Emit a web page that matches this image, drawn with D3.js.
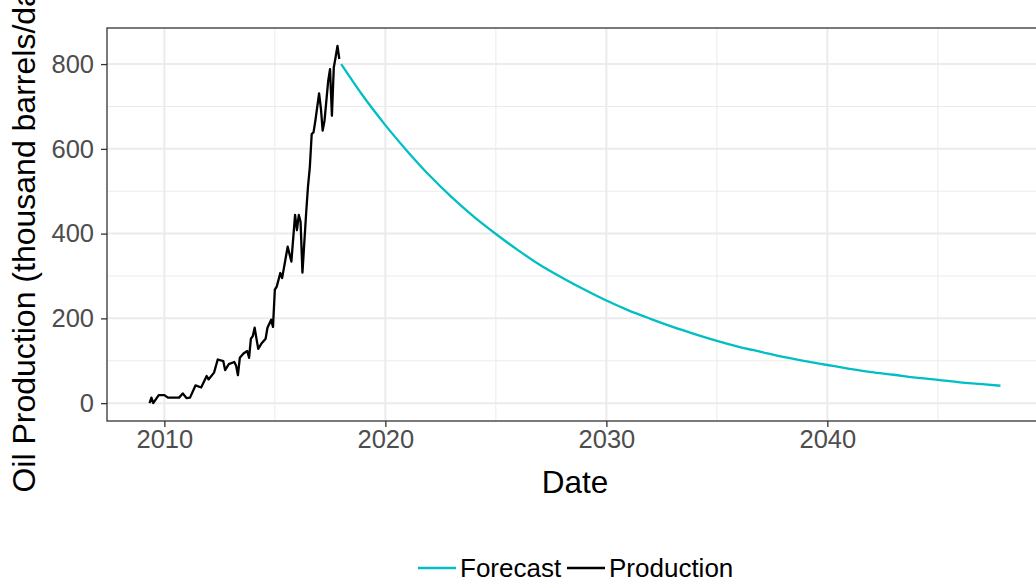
<!DOCTYPE html>
<html>
<head>
<meta charset="utf-8">
<script src="https://cdn.jsdelivr.net/npm/d3@7"></script>
<style>
  html, body { margin: 0; padding: 0; background: #fff; overflow: hidden; }
  svg { display: block; font-family: "Liberation Sans", Arial, sans-serif; }
</style>
</head>
<body>
<svg id="chart" width="1036" height="584"></svg>
<script>
// Monthly production readings (thousand barrels/day)
const prodDates = [
  "2009-05","2009-06","2009-07","2009-09","2009-10","2010-01","2010-03","2010-09","2010-11",
  "2011-01","2011-03","2011-06","2011-09","2011-12","2012-01","2012-04","2012-06","2012-09",
  "2012-10","2012-12","2013-03","2013-04","2013-05","2013-06","2013-08","2013-10","2013-11",
  "2013-12","2014-01","2014-02","2014-03","2014-04","2014-06","2014-08","2014-09","2014-11",
  "2014-12","2015-01","2015-02","2015-04","2015-05","2015-08","2015-10","2015-12","2016-01",
  "2016-02","2016-03","2016-04","2016-06","2016-07","2016-08","2016-09","2016-10","2016-11",
  "2017-01","2017-02","2017-03","2017-04","2017-06","2017-07","2017-08","2017-09","2017-10",
  "2017-11","2017-12"
];
const prodValues = [
  0, 13, 0, 13, 19, 19, 13, 13, 23,
  12, 13, 42, 37, 64, 56, 72, 103, 99,
  78, 92, 97, 88, 66, 107, 117, 123, 107,
  152, 158, 178, 154, 128, 142, 152, 178, 197,
  180, 268, 275, 307, 295, 369, 334, 444, 408,
  444, 428, 308, 448, 510, 557, 635, 639, 667,
  731, 694, 643, 667, 761, 788, 678, 792, 816,
  843, 812
];

// Forecast decline curve (thousand barrels/day)
const forecastDates = [
  "2018-01","2019-01","2020-01","2021-01","2022-01","2023-01","2024-01","2025-01",
  "2026-01","2027-01","2028-01","2029-01","2030-01","2031-01","2032-01","2033-01",
  "2034-01","2035-01","2036-01","2037-01","2038-01","2039-01","2040-01","2041-01",
  "2042-01","2043-01","2044-01","2045-01","2046-01","2047-01","2047-11"
];
const forecastValues = [
  800, 724, 656, 594, 537, 486, 440, 399,
  361, 326, 296, 268, 242, 219, 199, 180,
  163, 147, 133, 121, 109, 99, 90, 81,
  73, 67, 60, 55, 49, 45, 41
];

const yTicks = [0, 200, 400, 600, 800];
const yMinor = [100, 300, 500, 700];
const xTickYears = [2010, 2020, 2030, 2040];
const xMinorYears = [2015, 2025, 2035, 2045];

const seriesNames = ["Forecast", "Production"];
const seriesColors = ["#00BFC4", "#000000"];

const parse = d3.timeParse("%Y-%m");
const production = prodDates.map((d, i) => ({ date: parse(d), value: prodValues[i] }));
const forecast = forecastDates.map((d, i) => ({ date: parse(d), value: forecastValues[i] }));

// Plot panel (its right edge runs past the visible canvas)
const panel = { left: 107, top: 28, right: 1043, bottom: 421 };

const allPts = production.concat(forecast);
const tExt = d3.extent(allPts, d => +d.date);
const tPad = (tExt[1] - tExt[0]) * 0.05;
const x = d3.scaleTime()
  .domain([new Date(tExt[0] - tPad), new Date(tExt[1] + tPad)])
  .range([panel.left, panel.right]);

const vExt = d3.extent(allPts, d => d.value);
const vPad = (vExt[1] - vExt[0]) * 0.05;
const y = d3.scaleLinear()
  .domain([vExt[0] - vPad, vExt[1] + vPad])
  .range([panel.bottom, panel.top]);

const svg = d3.select("#chart");
const yearDate = yr => new Date(yr, 0, 1);
const tickFont = 25.5;
const lineWidth = 2.3;

// Gridlines
const grid = svg.append("g");
grid.selectAll(".xminor").data(xMinorYears).join("line")
  .attr("x1", d => x(yearDate(d))).attr("x2", d => x(yearDate(d)))
  .attr("y1", panel.top).attr("y2", panel.bottom)
  .attr("stroke", "#EBEBEB").attr("stroke-width", 1);
grid.selectAll(".yminor").data(yMinor).join("line")
  .attr("x1", panel.left).attr("x2", panel.right)
  .attr("y1", d => y(d)).attr("y2", d => y(d))
  .attr("stroke", "#EBEBEB").attr("stroke-width", 1);
grid.selectAll(".xmajor").data(xTickYears).join("line")
  .attr("x1", d => x(yearDate(d))).attr("x2", d => x(yearDate(d)))
  .attr("y1", panel.top).attr("y2", panel.bottom)
  .attr("stroke", "#EBEBEB").attr("stroke-width", 2);
grid.selectAll(".ymajor").data(yTicks).join("line")
  .attr("x1", panel.left).attr("x2", panel.right)
  .attr("y1", d => y(d)).attr("y2", d => y(d))
  .attr("stroke", "#EBEBEB").attr("stroke-width", 2);

// Series lines
svg.append("path").datum(forecast)
  .attr("d", d3.line().x(d => x(d.date)).y(d => y(d.value)).curve(d3.curveMonotoneX))
  .attr("fill", "none").attr("stroke", seriesColors[0]).attr("stroke-width", lineWidth);
svg.append("path").datum(production)
  .attr("d", d3.line().x(d => x(d.date)).y(d => y(d.value)))
  .attr("fill", "none").attr("stroke", seriesColors[1]).attr("stroke-width", lineWidth)
  .attr("stroke-linejoin", "round");

// Panel border
svg.append("rect")
  .attr("x", panel.left).attr("y", panel.top)
  .attr("width", panel.right - panel.left).attr("height", panel.bottom - panel.top)
  .attr("fill", "none").attr("stroke", "#333333").attr("stroke-width", 1.3);

// Axes
const xAxis = d3.axisBottom(x)
  .tickValues(xTickYears.map(yearDate))
  .tickFormat(d3.timeFormat("%Y"))
  .tickSize(6).tickPadding(3);
const gx = svg.append("g").attr("transform", `translate(0,${panel.bottom})`).call(xAxis);
gx.select(".domain").remove();
gx.selectAll(".tick line").attr("stroke", "#333333").attr("stroke-width", 1.3);
gx.selectAll(".tick text").attr("fill", "#4D4D4D").attr("font-size", tickFont)
  .attr("font-family", "Liberation Sans, Arial, sans-serif");

const yAxis = d3.axisLeft(y).tickValues(yTicks).tickSize(6).tickPadding(7);
const gy = svg.append("g").attr("transform", `translate(${panel.left},0)`).call(yAxis);
gy.select(".domain").remove();
gy.selectAll(".tick line").attr("stroke", "#333333").attr("stroke-width", 1.3);
gy.selectAll(".tick text").attr("fill", "#4D4D4D").attr("font-size", tickFont)
  .attr("font-family", "Liberation Sans, Arial, sans-serif");

// Axis titles
svg.append("text")
  .attr("x", (panel.left + panel.right) / 2).attr("y", 493)
  .attr("text-anchor", "middle").attr("font-size", 31.5).attr("fill", "#000")
  .text("Date");
svg.append("text")
  .attr("transform", `translate(35,${(panel.top + panel.bottom) / 2 + 3}) rotate(-90)`)
  .attr("text-anchor", "middle").attr("font-size", 32).attr("fill", "#000")
  .text("Oil Production (thousand barrels/day)");

// Legend
const legend = svg.append("g");
const legendItems = [
  { name: seriesNames[0], color: seriesColors[0], x0: 418 },
  { name: seriesNames[1], color: seriesColors[1], x0: 567 }
];
legendItems.forEach(it => {
  legend.append("line")
    .attr("x1", it.x0).attr("x2", it.x0 + 38)
    .attr("y1", 568).attr("y2", 568)
    .attr("stroke", it.color).attr("stroke-width", lineWidth);
  legend.append("text")
    .attr("x", it.x0 + 42).attr("y", 577)
    .attr("font-size", 26).attr("fill", "#000")
    .text(it.name);
});
</script>
</body>
</html>
